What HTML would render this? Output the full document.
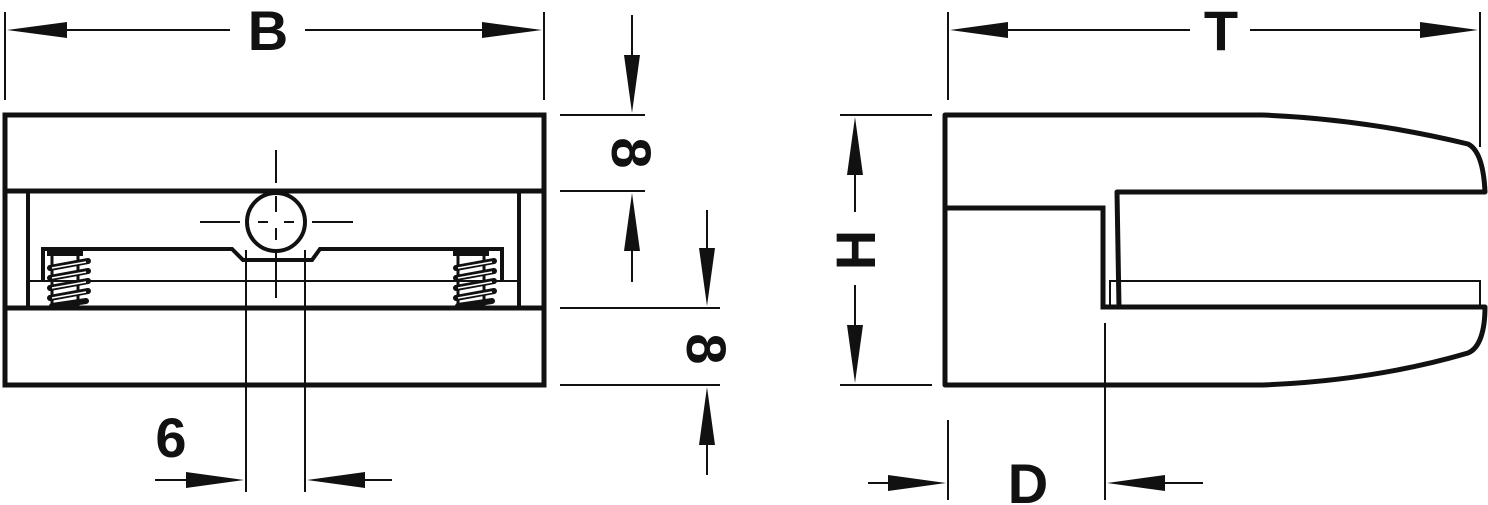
<!DOCTYPE html>
<html><head><style>html,body{margin:0;padding:0;background:#fff}svg{display:block}</style></head><body>
<svg width="1488" height="505" viewBox="0 0 1488 505" xmlns="http://www.w3.org/2000/svg">
<defs>
<g id="screw">
<rect x="0" y="0" width="36" height="9" fill="#111"/>
<line x1="5" y1="9" x2="5" y2="61" stroke="#111" stroke-width="3"/>
<line x1="31" y1="9" x2="31" y2="61" stroke="#111" stroke-width="3"/>
<g stroke="#111" stroke-width="6" stroke-linecap="round" fill="none">
<path d="M3,21 L41,14"/><path d="M3,31 L41,24"/><path d="M3,41 L41,34"/><path d="M3,51 L41,44"/><path d="M5,59 L39,54"/>
</g>
<g stroke="#fff" stroke-width="1.5"><path d="M5,21 L39,15"/><path d="M5,31 L39,25"/><path d="M5,41 L39,35"/><path d="M5,51 L39,45"/></g>
</g>
</defs>
<g fill="none" stroke="#111">
<rect x="5" y="115" width="539" height="270" stroke-width="5"/>
<line x1="5" y1="191" x2="544" y2="191" stroke-width="5"/>
<line x1="5" y1="308" x2="544" y2="308" stroke-width="5"/>
<line x1="28" y1="191" x2="28" y2="308" stroke-width="4"/>
<line x1="519" y1="191" x2="519" y2="308" stroke-width="4"/>
<line x1="30" y1="281" x2="519" y2="281" stroke-width="2"/>
<path d="M43,281 L43,249 L232,249 L243,260 L312,260 L320,249 L502,249 L502,281" stroke-width="4"/>
<circle cx="276" cy="222" r="29" stroke-width="4" fill="#fff"/>
<g stroke-width="2">
<line x1="200" y1="222" x2="240" y2="222"/><line x1="258" y1="222" x2="268" y2="222"/><line x1="284" y1="222" x2="294" y2="222"/><line x1="312" y1="222" x2="353" y2="222"/>
<line x1="276" y1="150" x2="276" y2="183"/><line x1="276" y1="196" x2="276" y2="212"/><line x1="276" y1="228" x2="276" y2="240"/><line x1="276" y1="250" x2="276" y2="298"/>
<line x1="246" y1="250" x2="246" y2="492"/><line x1="305" y1="250" x2="305" y2="492"/>
</g>
<g stroke-width="2">
<line x1="5" y1="12" x2="5" y2="100"/><line x1="544" y1="12" x2="544" y2="100"/>
<line x1="60" y1="30" x2="230" y2="30"/><line x1="305" y1="30" x2="490" y2="30"/>
<line x1="560" y1="115" x2="645" y2="115"/><line x1="560" y1="191" x2="645" y2="191"/>
<line x1="560" y1="308" x2="720" y2="308"/><line x1="560" y1="385" x2="720" y2="385"/>
<line x1="632" y1="15" x2="632" y2="60"/><line x1="632" y1="245" x2="632" y2="282"/>
<line x1="707" y1="210" x2="707" y2="252"/><line x1="707" y1="440" x2="707" y2="475"/>
<line x1="155" y1="480" x2="190" y2="480"/><line x1="360" y1="480" x2="392" y2="480"/>
<line x1="948" y1="12" x2="948" y2="100"/><line x1="1480" y1="12" x2="1480" y2="147"/>
<line x1="1003" y1="30" x2="1190" y2="30"/><line x1="1250" y1="30" x2="1425" y2="30"/>
<line x1="840" y1="115" x2="932" y2="115"/><line x1="840" y1="385" x2="932" y2="385"/>
<line x1="855" y1="170" x2="855" y2="212"/><line x1="855" y1="285" x2="855" y2="330"/>
<line x1="948" y1="420" x2="948" y2="500"/><line x1="1105" y1="323" x2="1105" y2="500"/>
<line x1="868" y1="483" x2="892" y2="483"/><line x1="1160" y1="483" x2="1203" y2="483"/>
</g>
<path d="M945,115 L1262,115 C1340,118 1410,130 1468,144 C1480,150 1484,170 1485,192 L1117,192 L1119,307 L1485,307 C1485,330 1480,348 1468,353 C1410,370 1340,382 1262,385 L945,385 Z" stroke-width="5" stroke-linejoin="round"/>
<path d="M945,208 L1103,208 L1103,307 L1119,307" stroke-width="5"/>
<path d="M1119,281 L1110,281 L1110,305 M1119,281 L1480,281 L1480,305" stroke-width="2"/>
</g>
<use href="#screw" x="47" y="247"/>
<use href="#screw" x="453" y="247"/>
<g fill="#111">
<polygon points="7,30 67,22 67,38"/><polygon points="542,30 482,22 482,38"/>
<polygon points="632,113 624,55 640,55"/><polygon points="632,193 624,251 640,251"/>
<polygon points="707,306 699,248 715,248"/><polygon points="707,387 699,445 715,445"/>
<polygon points="244,480 186,472 186,488"/><polygon points="307,480 365,472 365,488"/>
<polygon points="950,30 1008,22 1008,38"/><polygon points="1478,30 1420,22 1420,38"/>
<polygon points="855,117 847,175 863,175"/><polygon points="855,383 847,325 863,325"/>
<polygon points="946,483 888,475 888,491"/><polygon points="1107,483 1165,475 1165,491"/>
</g>
<g font-family="Liberation Sans, sans-serif" font-weight="bold" font-size="56" fill="#111" text-anchor="middle">
<text x="268" y="50">B</text>
<text x="1221" y="50">T</text>
<text x="171" y="457">6</text>
<text x="1028" y="503">D</text>
<text transform="translate(632,153) rotate(90)" y="20">8</text>
<text transform="translate(707,349) rotate(90)" y="20">8</text>
<text transform="translate(855,250) rotate(-90)" y="20">H</text>
</g>
</svg>
</body></html>
